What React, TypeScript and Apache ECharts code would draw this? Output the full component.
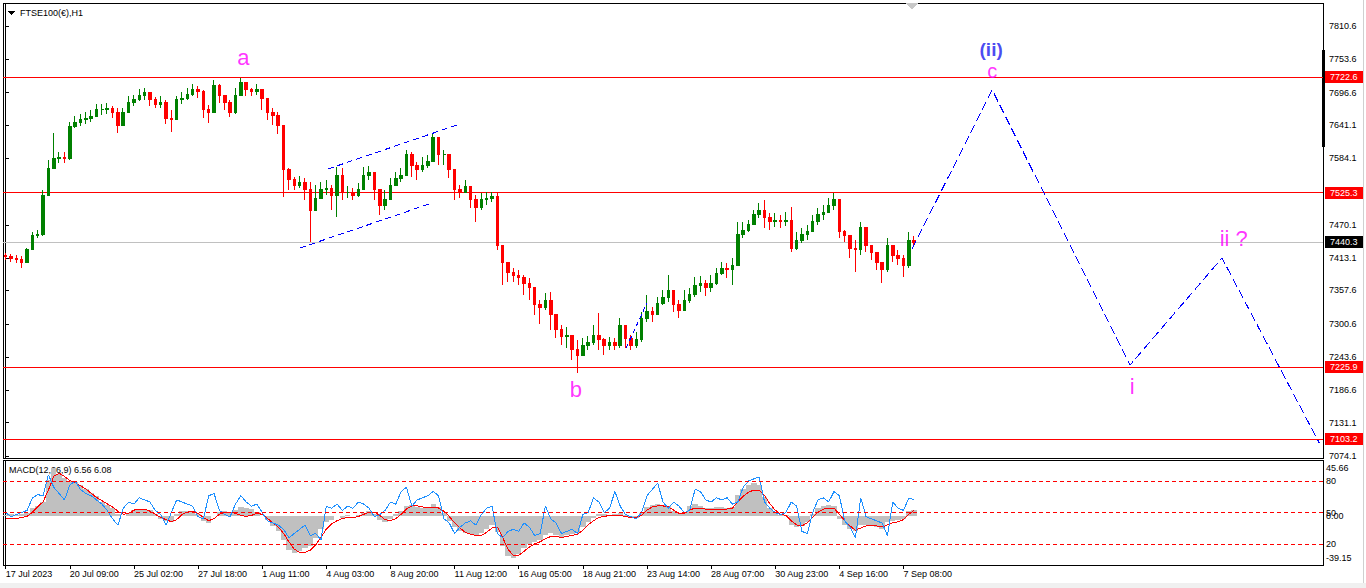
import React, { useEffect, useRef } from "react";
import * as echarts from "echarts";

const FONT = '"Liberation Sans", Arial, sans-serif';

// ---- price bars (H1 FTSE100, resampled) ----
const firstOpen = 7418;
const closes = [
  7415, 7413, 7411, 7406, 7427, 7451, 7454, 7521, 7567, 7584,
  7586, 7584, 7638, 7646, 7650, 7653, 7656, 7667, 7667, 7670,
  7663, 7641, 7663, 7680, 7684, 7692, 7696, 7684, 7677, 7680,
  7653, 7650, 7684, 7687, 7694, 7701, 7698, 7667, 7663, 7708,
  7692, 7679, 7663, 7692, 7713, 7701, 7698, 7701, 7687, 7663,
  7658, 7641, 7564, 7547, 7538, 7542, 7530, 7495, 7516, 7530,
  7533, 7521, 7555, 7526, 7526, 7521, 7530, 7555, 7560, 7530,
  7504, 7513, 7538, 7550, 7555, 7590, 7572, 7564, 7572, 7578,
  7619, 7590, 7590, 7564, 7530, 7526, 7536, 7513, 7499, 7513,
  7516, 7519, 7435, 7406, 7389, 7384, 7379, 7370, 7362, 7333,
  7328, 7341, 7316, 7290, 7278, 7281, 7256, 7247, 7264, 7268,
  7281, 7273, 7264, 7269, 7264, 7298, 7276, 7264, 7273, 7310,
  7321, 7316, 7336, 7346, 7358, 7333, 7324, 7341, 7350, 7367,
  7370, 7362, 7370, 7387, 7396, 7393, 7401, 7453, 7461, 7470,
  7487, 7495, 7482, 7475, 7478, 7475, 7478, 7430, 7444, 7453,
  7458, 7475, 7487, 7492, 7504, 7513, 7458, 7451, 7430, 7427,
  7465, 7435, 7423, 7406, 7393, 7435, 7418, 7413, 7401, 7444,
  7440.3,
];
const highs = [
  7422, 7420, 7418, 7417, 7430, 7458, 7461, 7530, 7581, 7627,
  7595, 7595, 7646, 7656, 7660, 7663, 7667, 7677, 7677, 7679,
  7673, 7670, 7670, 7691, 7692, 7703, 7704, 7694, 7689, 7691,
  7684, 7667, 7691, 7698, 7704, 7711, 7708, 7701, 7675, 7718,
  7711, 7691, 7684, 7704, 7721, 7715, 7704, 7711, 7701, 7684,
  7670, 7663, 7632, 7567, 7552, 7554, 7550, 7543, 7538, 7543,
  7547, 7538, 7569, 7567, 7536, 7533, 7542, 7569, 7571, 7560,
  7521, 7530, 7550, 7560, 7567, 7598, 7595, 7578, 7586, 7590,
  7626, 7607, 7598, 7581, 7555, 7538, 7547, 7535, 7521, 7524,
  7526, 7526, 7524, 7427, 7406, 7396, 7393, 7384, 7379, 7358,
  7341, 7353, 7355, 7310, 7298, 7295, 7281, 7273, 7276, 7280,
  7298, 7319, 7276, 7278, 7276, 7310, 7290, 7281, 7286, 7321,
  7350, 7329, 7346, 7358, 7384, 7350, 7341, 7358, 7362, 7381,
  7382, 7376, 7384, 7396, 7406, 7405, 7413, 7475, 7475, 7478,
  7495, 7507, 7513, 7490, 7490, 7487, 7492, 7501, 7458, 7465,
  7470, 7487, 7499, 7504, 7516, 7524, 7504, 7461, 7453, 7444,
  7475, 7461, 7435, 7423, 7406, 7447, 7435, 7427, 7418, 7458,
  7451,
];
const lows = [
  7410, 7406, 7405, 7396, 7406, 7442, 7447, 7451, 7554, 7571,
  7576, 7576, 7581, 7636, 7639, 7643, 7646, 7656, 7658, 7660,
  7653, 7627, 7650, 7670, 7673, 7682, 7684, 7673, 7670, 7670,
  7643, 7629, 7658, 7677, 7684, 7691, 7687, 7653, 7644, 7663,
  7679, 7667, 7655, 7660, 7691, 7691, 7691, 7692, 7667, 7650,
  7641, 7626, 7518, 7530, 7530, 7533, 7513, 7441, 7495, 7516,
  7521, 7495, 7483, 7513, 7516, 7513, 7518, 7530, 7547, 7513,
  7487, 7495, 7521, 7536, 7543, 7564, 7552, 7547, 7560, 7567,
  7581, 7572, 7572, 7550, 7513, 7516, 7524, 7499, 7475, 7495,
  7504, 7509, 7427, 7367, 7372, 7372, 7367, 7350, 7341, 7316,
  7300, 7324, 7290, 7276, 7264, 7259, 7239, 7216, 7250, 7256,
  7264, 7256, 7247, 7256, 7256, 7259, 7259, 7256, 7259, 7269,
  7304, 7304, 7321, 7333, 7338, 7321, 7310, 7327, 7336, 7346,
  7355, 7348, 7355, 7367, 7384, 7379, 7367, 7401, 7447, 7458,
  7470, 7482, 7465, 7461, 7466, 7465, 7468, 7423, 7427, 7439,
  7444, 7461, 7470, 7478, 7492, 7495, 7447, 7441, 7413, 7389,
  7418, 7423, 7410, 7393, 7370, 7389, 7406, 7401, 7381, 7396,
  7432,
];

// ---- MACD panel ----
const macdHist = [
  1, 2, 1, 2, 3, 8, 10, 14, 35, 45.66,
  40, 36, 34, 33, 30, 26, 22, 19, 14, 11,
  8, 2, 0, 3, 6, 7, 7, 6, 2, -2,
  -4, -5, 2, 5, 5, 5, 2, -4, -6, 0,
  4, 5, 3, 6, 9, 8, 7, 4, 0, -3,
  -9, -14, -22, -32, -35, -33, -30, -28, -20, -12,
  -5, -3, 0, -1, 1, 0, 1, 3, 5, 2,
  -3, -5, -2, 2, 5, 10, 11, 9, 8, 8,
  12, 9, 3, -4, -10, -14, -16, -17, -18, -16,
  -12, -8, -15, -28, -37, -39.15, -36, -30, -26, -24,
  -22, -18, -16, -18, -19, -18, -17, -16, -10, -5,
  -1, 2, 2, 1, 2, 3, 1, -1, -1, 3,
  9, 11, 12, 11, 10, 5, 3, 4, 10, 12,
  10, 8, 8, 9, 9, 8, 9, 20, 26, 30,
  32, 30, 18, 8, 3, 1, 1, -8, -10, -9,
  -5, 2, 8, 10, 11, 10, -2, -8, -12, -14,
  -8, -8, -9, -10, -12, -5, -4, -3, -2, 5,
  6.56,
];
const macdSignal = [
  -2, -2, -2, -1, 0, 4, 9, 14, 25, 38,
  41, 38, 34, 32, 29, 26, 22, 18, 15, 12,
  9, 5, 2, 3, 6, 7, 7, 5, 2, -1,
  -3, -5, -3, 2, 4, 5, 3, -1, -4, -2,
  2, 4, 4, 3, 1, 0, 1, 3, 2, -2,
  -6, -10, -16, -24, -31, -34, -34, -32, -27, -20,
  -12, -7, -4, -2, -1, -1, 0, 2, 4, 4,
  1, -3, -4, -2, 2, 7, 10, 10, 9, 8,
  9, 8, 5, 0, -6, -11, -15, -17, -18, -18,
  -15, -11, -10, -20, -31, -37, -37, -33, -29, -26,
  -24, -21, -19, -19, -20, -19, -18, -17, -13, -8,
  -4, -1, 0, 1, 1, 1, 0, -1, -1, 1,
  6, 9, 10, 10, 9, 6, 3, 3, 6, 8,
  8, 7, 7, 7, 7, 7, 8, 14, 19, 23,
  25, 25, 20, 12, 6, 2, 1, -4, -8, -9,
  -6, -1, 4, 7, 8, 8, 2, -4, -9, -13,
  -11, -9, -9, -9, -10, -8, -6, -5, -3, 2,
  6.08,
];
const oscLine = [
  50, 46, 48, 50, 52, 64, 67, 66, 86, 74,
  68, 62, 76, 80, 72, 68, 66, 62, 58, 52,
  44, 38, 54, 60, 58, 64, 62, 60, 52, 48,
  38, 50, 62, 60, 58, 56, 46, 44, 66, 68,
  52, 48, 46, 58, 66, 60, 56, 58, 50, 42,
  40, 38, 34, 26, 30, 34, 38, 28, 30, 24,
  56, 54, 58, 52, 56, 54, 60, 58, 54, 46,
  48, 52, 60, 58, 70, 74, 56, 62, 64, 66,
  70, 66, 44, 40, 30, 36, 40, 42, 38, 48,
  54, 56, 30, 26, 32, 34, 32, 40, 36, 28,
  30, 56, 44, 40, 30, 32, 34, 30, 48, 50,
  64, 60, 50, 54, 70, 56, 48, 46, 44, 50,
  66, 72, 78, 60, 54, 60, 56, 50, 52, 72,
  70, 62, 60, 64, 62, 64, 58, 60, 74, 80,
  82, 84, 60, 54, 50, 48, 50, 60, 56, 32,
  30, 50, 62, 64, 60, 70, 66, 42, 36, 26,
  64, 46, 44, 42, 40, 28, 60, 54, 52, 64,
  62,
];

// ---- axes ----
const priceTicks = [7810.6, 7753.6, 7696.6, 7641.1, 7584.1, 7470.1, 7413.1, 7357.6, 7300.6, 7243.6, 7186.6, 7131.1, 7074.1];
const levelPrices = [7722.6, 7525.3, 7225.9, 7103.2];
const lastPrice = 7440.3;
const macdTicks = [45.66, 0, -39.15];
const oscLevels = [80, 50, 20];
const dateLabels = [
  "17 Jul 2023", "20 Jul 09:00", "25 Jul 02:00", "27 Jul 18:00", "1 Aug 11:00",
  "4 Aug 03:00", "8 Aug 20:00", "11 Aug 12:00", "16 Aug 05:00", "18 Aug 21:00",
  "23 Aug 14:00", "28 Aug 07:00", "30 Aug 23:00", "4 Sep 16:00", "7 Sep 08:00",
];
const dateIdx = [0, 12, 24, 36, 48, 60, 72, 84, 96, 108, 120, 132, 144, 156, 168];
const SLOTS = 247;

// ---- drawn objects (bar index, price) ----
const waveIdx = [169.6, 184.6, 210.4, 227.6, 245.8];
const wavePrice = [7428.7, 7701.0, 7230.0, 7413.3, 7096.4];
const chanUpIdx = [60.3, 85.0];
const chanUpPrice = [7565.7, 7642.8];
const chanLoIdx = [55.1, 79.8];
const chanLoPrice = [7430.4, 7507.5];
const segIdx = [116.1, 120.0];
const segPrice = [7259.1, 7336.2];

const noteText = ["a", "b", "c", "i", "ii ?", "(ii)"];
const noteIdx = [44.5, 106.7, 184.6, 210.8, 229.8, 184.4];
const notePrice = [7755.8, 7188.0, 7733.0, 7194.0, 7445.8, 7770.0];
const noteColor = ["#ff00ff", "#ff00ff", "#ff00ff", "#ff00ff", "#ff00ff", "#1a1aee"];
const noteSize = [22, 22, 20, 22, 22, 19];
const noteWeight = ["normal", "normal", "normal", "normal", "normal", "bold"];

const zip = (a: number[], b: number[]) => a.map((v, i) => [v, b[i]]);

export default function App() {
  const ref = useRef<HTMLDivElement>(null);

  useEffect(() => {
    document.body.style.margin = "0";
    if (!ref.current) return;
    const chart = echarts.init(ref.current, null, { renderer: "svg" });

    const candles = closes.map((c, i) => {
      const o = i === 0 ? firstOpen : closes[i - 1];
      return [o, c, Math.min(lows[i], o, c), Math.max(highs[i], o, c)];
    });
    const cats = Array.from({ length: SLOTS }, (_, i) => String(i));
    const dateMap = new Map(dateIdx.map((d, i) => [d, dateLabels[i]]));

    const axisText = { color: "#000", fontSize: 9, fontFamily: FONT };
    const dashed = (data: number[][], dash: number[]) => ({
      type: "line",
      xAxisIndex: 1,
      yAxisIndex: 0,
      data,
      symbol: "none",
      silent: true,
      lineStyle: { color: "#0000ff", width: 1, type: dash },
      z: 4,
    });

    const levelSeries = (v: number, lineColor: string, bg: string) => ({
      type: "line",
      xAxisIndex: 1,
      yAxisIndex: 0,
      data: [[-0.5, v], [SLOTS - 0.5, v]],
      symbol: "none",
      silent: true,
      lineStyle: { color: lineColor, width: 1, type: "solid" },
      endLabel: {
        show: true,
        distance: 2,
        formatter: () => v.toFixed(1),
        backgroundColor: bg,
        color: "#ffffff",
        padding: [1, 5, 1, 5],
        fontSize: 9,
        lineHeight: 10,
        fontFamily: FONT,
      },
      z: 2,
    });

    const option: any = {
      animation: false,
      backgroundColor: "#ffffff",
      textStyle: { fontFamily: FONT },
      grid: [
        { left: 3, top: 3, width: 1320, height: 455, show: true, borderColor: "#000", borderWidth: 1, backgroundColor: "#fff" },
        { left: 3, top: 460, width: 1320, height: 105, show: true, borderColor: "#000", borderWidth: 1, backgroundColor: "#fff" },
      ],
      xAxis: [
        { type: "category", gridIndex: 0, data: cats, show: false },
        { type: "value", gridIndex: 0, min: -0.5, max: SLOTS - 0.5, show: false },
        { type: "category", gridIndex: 1, data: cats, show: false },
        {
          type: "value",
          gridIndex: 1,
          min: -0.5,
          max: SLOTS - 0.5,
          position: "bottom",
          axisLine: { show: false },
          splitLine: { show: false },
          axisTick: { show: true, customValues: dateIdx, length: 4, lineStyle: { color: "#000" } },
          axisLabel: {
            ...axisText,
            customValues: dateIdx,
            align: "left",
            margin: 4,
            formatter: (v: number) => dateMap.get(Math.round(v)) ?? "",
          },
        },
      ],
      yAxis: [
        {
          type: "value",
          gridIndex: 0,
          position: "right",
          min: 7070.7,
          max: 7850.0,
          splitLine: { show: false },
          axisLine: { show: true, lineStyle: { color: "#000" } },
          axisTick: { show: true, customValues: priceTicks, length: 3, lineStyle: { color: "#000" } },
          axisLabel: { ...axisText, customValues: priceTicks, margin: 6, formatter: (v: number) => v.toFixed(1) },
        },
        {
          type: "value",
          gridIndex: 1,
          position: "right",
          min: -46,
          max: 53.5,
          splitLine: { show: false },
          axisLine: { show: true, lineStyle: { color: "#000" } },
          axisTick: { show: false },
          axisLabel: { ...axisText, customValues: macdTicks, margin: 3, formatter: (v: number) => v.toFixed(2) },
        },
        {
          type: "value",
          gridIndex: 1,
          position: "right",
          min: 0,
          max: 100,
          splitLine: { show: false },
          axisLine: { show: false },
          axisTick: { show: false },
          axisLabel: { ...axisText, customValues: oscLevels, margin: 3, formatter: (v: number) => String(v) },
        },
      ],
      series: [
        ...levelPrices.map((v) => levelSeries(v, "#ff0000", "#ff0000")),
        levelSeries(lastPrice, "#c0c0c0", "#000000"),
        {
          type: "candlestick",
          xAxisIndex: 0,
          yAxisIndex: 0,
          data: candles,
          barWidth: 3,
          itemStyle: { color: "#008000", color0: "#ff0000", borderColor: "#008000", borderColor0: "#ff0000", borderWidth: 1 },
          z: 3,
        },
        dashed(zip(waveIdx, wavePrice), [9, 4]),
        dashed(zip(chanUpIdx, chanUpPrice), [6, 4]),
        dashed(zip(chanLoIdx, chanLoPrice), [6, 4]),
        dashed(zip(segIdx, segPrice), [5, 3]),
        {
          type: "scatter",
          xAxisIndex: 1,
          yAxisIndex: 0,
          symbolSize: 1,
          silent: true,
          itemStyle: { color: "rgba(0,0,0,0)" },
          data: noteText.map((t, i) => ({
            value: [noteIdx[i], notePrice[i]],
            label: {
              show: true,
              position: "inside",
              formatter: t,
              color: noteColor[i],
              fontSize: noteSize[i],
              fontWeight: noteWeight[i],
              lineHeight: 15,
              fontFamily: FONT,
            },
          })),
          z: 6,
        },
        {
          type: "bar",
          xAxisIndex: 2,
          yAxisIndex: 1,
          data: macdHist,
          barWidth: 5.4,
          itemStyle: { color: "#c0c0c0" },
          silent: true,
        },
        {
          type: "line",
          xAxisIndex: 2,
          yAxisIndex: 1,
          data: macdSignal,
          symbol: "none",
          silent: true,
          lineStyle: { color: "#ff0000", width: 1 },
        },
        {
          type: "line",
          xAxisIndex: 2,
          yAxisIndex: 2,
          data: oscLine,
          symbol: "none",
          silent: true,
          lineStyle: { color: "#1e90ff", width: 1 },
          markLine: {
            silent: true,
            symbol: ["none", "none"],
            label: { show: false },
            lineStyle: { color: "#ff0000", width: 1, type: [4, 3] },
            data: oscLevels.map((v) => ({ yAxis: v })),
          },
          z: 4,
        },
      ],
      graphic: [
        { type: "polygon", shape: { points: [[8, 11], [15, 11], [11.5, 15]] }, style: { fill: "#000" }, silent: true },
        { type: "text", x: 20, y: 13, style: { text: "FTSE100(€),H1", fill: "#000", font: `9px ${FONT}`, verticalAlign: "middle" }, silent: true },
        { type: "polygon", shape: { points: [[905, 3], [919, 3], [912, 9]] }, style: { fill: "#c8c8c8" }, silent: true },
        { type: "rect", shape: { x: 1322, y: 50, width: 3, height: 97 }, style: { fill: "#000" }, silent: true },
        {
          type: "text",
          x: 9,
          y: 470,
          style: {
            text: `MACD(12,26,9) ${macdHist[macdHist.length - 1]} ${macdSignal[macdSignal.length - 1]}`,
            fill: "#000",
            font: `9px ${FONT}`,
            verticalAlign: "middle",
          },
          silent: true,
        },
        { type: "rect", shape: { x: 0, y: 583, width: 1366, height: 5 }, style: { fill: "#f0f0f0" }, silent: true },
        { type: "line", shape: { x1: 1363, y1: 0, x2: 1363, y2: 583 }, style: { stroke: "#d0d0d0", lineWidth: 1 }, silent: true },
      ],
    };

    chart.setOption(option);
    return () => chart.dispose();
  }, []);

  return <div ref={ref} style={{ width: 1366, height: 588, shapeRendering: "crispEdges" } as any} />;
}
